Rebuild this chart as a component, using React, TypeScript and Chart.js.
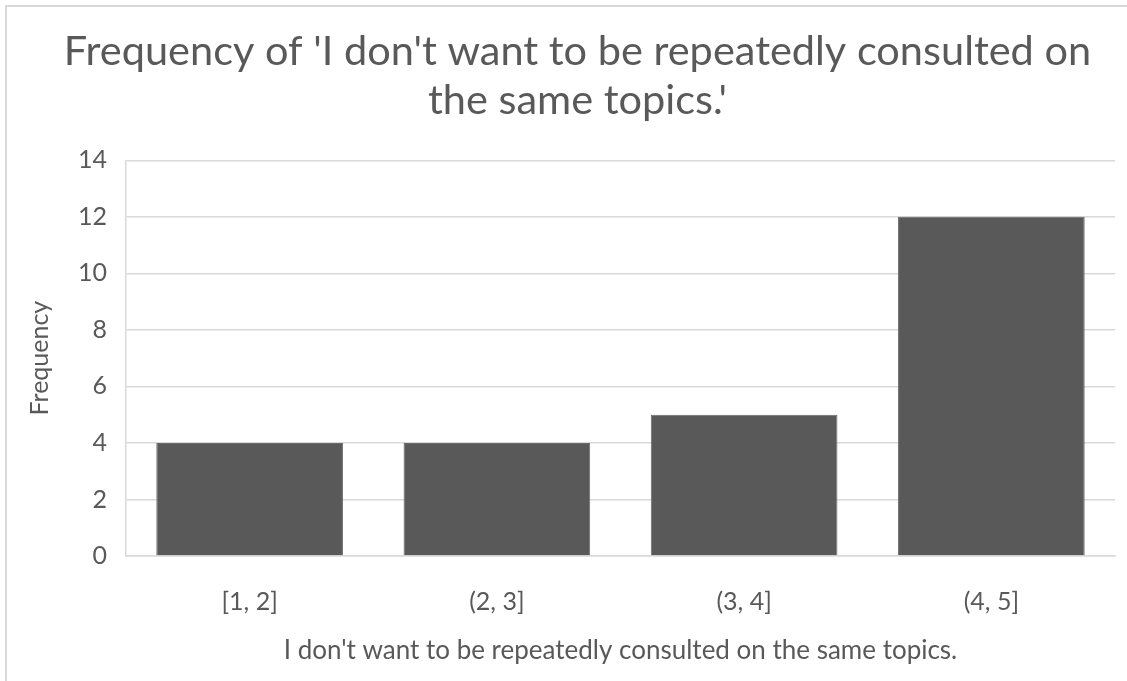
import React, { useEffect, useRef } from "react";
import { Chart, registerables } from "chart.js";

Chart.register(...registerables);

const titleLines = ["Frequency of 'I don't want to be repeatedly consulted on", "the same topics.'"];
const categories = ["[1, 2]", "(2, 3]", "(3, 4]", "(4, 5]"];
const frequencies = [4, 4, 5, 12];
const yTicksMax = 14;
const yStep = 2;
const xAxisTitle = "I don't want to be repeatedly consulted on the same topics.";
const yAxisTitle = "Frequency";

const FONT = "Lato, 'Open Sans', sans-serif";
const TEXT = "#595959";
const GRID = "#d9d9d9";

export default function App() {
  const ref = useRef<HTMLCanvasElement | null>(null);

  useEffect(() => {
    document.body.style.margin = "0";
    const canvas = ref.current;
    if (!canvas) return;
    const chart = new Chart(canvas, {
      type: "bar",
      data: {
        labels: categories,
        datasets: [
          {
            label: yAxisTitle,
            data: frequencies,
            backgroundColor: "#595959",
            borderColor: "#6a6a6a",
            borderWidth: 1,
            categoryPercentage: 1,
            barPercentage: 0.755,
          },
        ],
      },
      options: {
        responsive: false,
        animation: false,
        layout: { padding: { left: 40, right: 12, top: 0, bottom: 0 } },
        plugins: {
          legend: { display: false },
          tooltip: { enabled: false },
          title: {
            display: true,
            text: titleLines,
            color: TEXT,
            font: { family: FONT, size: 41.5, weight: "normal", lineHeight: 1.16 },
            padding: { top: 28, bottom: 36 },
          },
        },
        scales: {
          x: {
            type: "category",
            grid: { display: false },
            border: { display: true, color: GRID, width: 1.5 },
            ticks: {
              color: TEXT,
              font: { family: FONT, size: 25 },
              padding: 23,
              maxRotation: 0,
            },
            title: {
              display: true,
              text: xAxisTitle,
              color: TEXT,
              font: { family: FONT, size: 26, lineHeight: 1.2 },
              padding: { top: 0, bottom: 15 },
            },
            afterFit: (scale: any) => {
              scale.height = 125;
            },
          },
          y: {
            min: 0,
            max: yTicksMax,
            grid: { color: GRID, lineWidth: 1.5, drawTicks: false },
            border: { display: true, color: GRID, width: 1.5 },
            ticks: {
              stepSize: yStep,
              color: TEXT,
              font: { family: FONT, size: 25 },
              padding: 19,
            },
            title: {
              display: true,
              text: yAxisTitle,
              color: TEXT,
              font: { family: FONT, size: 25, lineHeight: 1.2 },
              padding: { top: -15, bottom: 0 },
            },
            afterFit: (scale: any) => {
              scale.width = 86;
            },
          },
        },
      },
    });
    return () => chart.destroy();
  }, []);

  return (
    <div style={{ position: "relative", width: 1127, height: 681, overflow: "hidden", background: "#fff" }}>
      <div
        style={{
          position: "absolute",
          left: 5,
          top: 5,
          width: 1200,
          height: 800,
          borderLeft: `2px solid ${GRID}`,
          borderTop: `2px solid ${GRID}`,
        }}
      />
      <canvas ref={ref} width={1127} height={681} style={{ position: "absolute", left: 0, top: 0, width: 1127, height: 681 }} />
    </div>
  );
}
